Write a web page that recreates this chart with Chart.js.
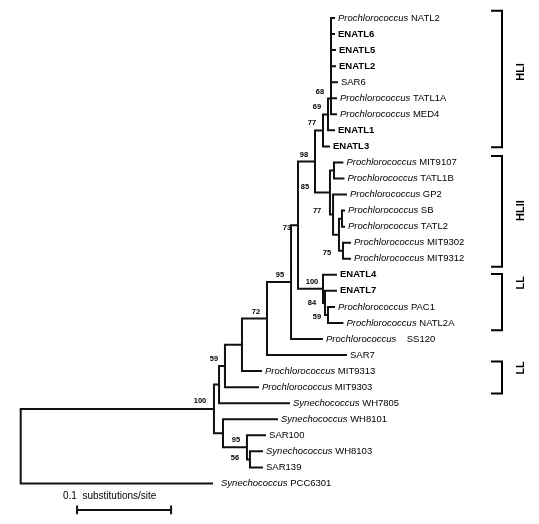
<!DOCTYPE html>
<html>
<head>
<meta charset="utf-8">
<script src="https://cdn.jsdelivr.net/npm/chart.js@4.4.0/dist/chart.umd.min.js"></script>
<style>
  body { margin: 0; background: #fff; }
  #tree { display: block; }
</style>
</head>
<body>
<canvas id="tree" width="539" height="524"></canvas>
<script>
// leaves, top to bottom
const genus = ['Prochlorococcus', '', '', '', '', 'Prochlorococcus', 'Prochlorococcus', '', '',
  'Prochlorococcus', 'Prochlorococcus', 'Prochlorococcus', 'Prochlorococcus', 'Prochlorococcus',
  'Prochlorococcus', 'Prochlorococcus', '', '', 'Prochlorococcus', 'Prochlorococcus', 'Prochlorococcus',
  '', 'Prochlorococcus', 'Prochlorococcus', 'Synechococcus', 'Synechococcus', '', 'Synechococcus', '',
  'Synechococcus'];
const strain = ['NATL2', 'ENATL6', 'ENATL5', 'ENATL2', 'SAR6', 'TATL1A', 'MED4', 'ENATL1', 'ENATL3',
  'MIT9107', 'TATL1B', 'GP2', 'SB', 'TATL2', 'MIT9302', 'MIT9312',
  'ENATL4', 'ENATL7', 'PAC1', 'NATL2A', '   SS120', 'SAR7', 'MIT9313', 'MIT9303',
  'WH7805', 'WH8101', 'SAR100', 'WH8103', 'SAR139', 'PCC6301'];
// distance from root, substitutions/site
const tipDepth = [0.3344, 0.3344, 0.3354, 0.3354, 0.3375, 0.3365, 0.3365, 0.3344, 0.3290,
  0.3433, 0.3444, 0.3471, 0.3450, 0.3450, 0.3514, 0.3514,
  0.3365, 0.3365, 0.3344, 0.3433, 0.3216, 0.3471, 0.2567, 0.2535,
  0.2865, 0.2737, 0.2610, 0.2578, 0.2578, 0.2046];

// internal nodes, children first ('t' leaf, 'n' node)
const nodeKids = [
  ['t0', 't1'], ['n0', 't2'], ['n1', 't3'], ['n2', 't4'], ['n3', 't5'], ['n4', 't6'],
  ['n5', 't7'], ['n6', 't8'],
  ['t9', 't10'], ['t12', 't13'], ['t14', 't15'], ['n9', 'n10'], ['t11', 'n11'], ['n8', 'n12'],
  ['n7', 'n13'],
  ['t18', 't19'], ['t17', 'n15'], ['t16', 'n16'],
  ['n14', 'n17'], ['n18', 't20'], ['n19', 't21'], ['n20', 't22'], ['n21', 't23'], ['n22', 't24'],
  ['t27', 't28'], ['t26', 'n24'], ['t25', 'n25'],
  ['n23', 'n26'], ['n27', 't29']];
const nodeDepth = [0.3301, 0.3301, 0.3301, 0.3301, 0.3301, 0.3301, 0.3269, 0.3216,
  0.3333, 0.3418, 0.3429, 0.3386, 0.3323, 0.3290, 0.3131,
  0.3269, 0.3237, 0.3216,
  0.2950, 0.2876, 0.2620, 0.2354, 0.2173, 0.2110,
  0.2439, 0.2407, 0.2152, 0.2056, 0];
const nodeSupport = [null, null, null, null, null, 68, 69, 77,
  null, null, 75, null, 77, 85, 98,
  59, 84, 100,
  73, 95, 72, null, 59, null,
  56, 95, null, 100, null];

const cladeName = ['HLI', 'HLII', 'LL', 'LL'];
const scaleBarLength = 0.1;

// ---- layout ----
const font = '"Liberation Sans", Arial, sans-serif';
const bracketTop = [-0.45, 8.6, 15.95, 21.4];
const bracketBottom = [8.05, 15.5, 19.45, 23.4];
const bracketLabelRow = [3.36, 12.0, 16.5, 21.8];
const barStart = 0.06, barRow = 30.65;
// support label nudges in px: [dx from node, dy from stem]
const supportNudge = {10: [-16, 2], 12: [-16, -4], 13: [-25, -6], 15: [-11, 2], 16: [-13, 0],
  18: [-11, 3], 24: [-15, -1], 27: [-14, -8]};

const nodeY = [];
function pos(ref) {
  const i = +ref.slice(1);
  return ref[0] === 't' ? {x: tipDepth[i], y: i} : {x: nodeDepth[i], y: nodeY[i]};
}
nodeKids.forEach((k, i) => { nodeY[i] = (pos(k[0]).y + pos(k[1]).y) / 2; });

const gap = {x: NaN, y: NaN};
const branchPts = [];
nodeKids.forEach((k, i) => {
  const a = pos(k[0]), b = pos(k[1]), x = nodeDepth[i];
  branchPts.push({x: a.x, y: a.y}, {x: x, y: a.y}, {x: x, y: b.y}, {x: b.x, y: b.y}, gap);
});
const barPts = [
  {x: barStart, y: barRow - 0.27}, {x: barStart, y: barRow + 0.27}, gap,
  {x: barStart, y: barRow}, {x: barStart + scaleBarLength, y: barRow}, gap,
  {x: barStart + scaleBarLength, y: barRow - 0.27}, {x: barStart + scaleBarLength, y: barRow + 0.27}];

const treeText = {
  id: 'treeText',
  afterDatasetsDraw(chart) {
    const {ctx, scales: {x, y}} = chart;
    ctx.save();
    ctx.fillStyle = '#000';
    ctx.strokeStyle = '#000';
    ctx.textBaseline = 'middle';
    // leaf names
    strain.forEach((s, i) => {
      let px = x.getPixelForValue(tipDepth[i]) + (i === 29 ? 8 : 3);
      const py = y.getPixelForValue(i);
      if (genus[i]) {
        ctx.font = 'italic 9.5px ' + font;
        ctx.fillText(genus[i], px, py);
        px += ctx.measureText(genus[i] + ' ').width;
      }
      ctx.font = (/^ENATL/.test(s) ? 'bold ' : '') + '9.5px ' + font;
      ctx.fillText(s, px, py);
    });
    // bootstrap values
    ctx.font = 'bold 7.5px ' + font;
    ctx.textAlign = 'center';
    nodeSupport.forEach((v, i) => {
      if (v == null) return;
      const n = supportNudge[i] || [-11, -7];
      ctx.fillText(String(v), x.getPixelForValue(nodeDepth[i]) + n[0], y.getPixelForValue(nodeY[i]) + n[1]);
    });
    // clade brackets
    ctx.lineWidth = 2;
    cladeName.forEach((name, i) => {
      const t = y.getPixelForValue(bracketTop[i]), b = y.getPixelForValue(bracketBottom[i]);
      ctx.beginPath();
      ctx.moveTo(491, t); ctx.lineTo(502, t); ctx.lineTo(502, b); ctx.lineTo(491, b);
      ctx.stroke();
      ctx.save();
      ctx.translate(521, y.getPixelForValue(bracketLabelRow[i]));
      ctx.rotate(-Math.PI / 2);
      ctx.font = 'bold 11px ' + font;
      ctx.fillText(name, 0, 0);
      ctx.restore();
    });
    // scale bar caption
    ctx.textAlign = 'left';
    ctx.font = '10px ' + font;
    ctx.fillText('0.1  substitutions/site', 63, 496);
    ctx.restore();
  }
};

new Chart(document.getElementById('tree'), {
  type: 'scatter',
  data: {
    datasets: [{
      label: 'branches',
      data: branchPts,
      showLine: true,
      spanGaps: false,
      borderColor: '#111',
      borderWidth: 2,
      pointRadius: 0,
      clip: false
    }, {
      label: 'scale',
      data: barPts,
      showLine: true,
      spanGaps: false,
      borderColor: '#111',
      borderWidth: 2,
      pointRadius: 0,
      clip: false
    }]
  },
  options: {
    responsive: false,
    animation: false,
    layout: { padding: 0 },
    plugins: { legend: { display: false }, tooltip: { enabled: false } },
    scales: {
      x: { type: 'linear', display: false, min: -0.02202, max: 0.55138 },
      y: { type: 'linear', display: false, reverse: true, min: -1.1215, max: 31.526 }
    }
  },
  plugins: [treeText]
});
</script>
</body>
</html>
